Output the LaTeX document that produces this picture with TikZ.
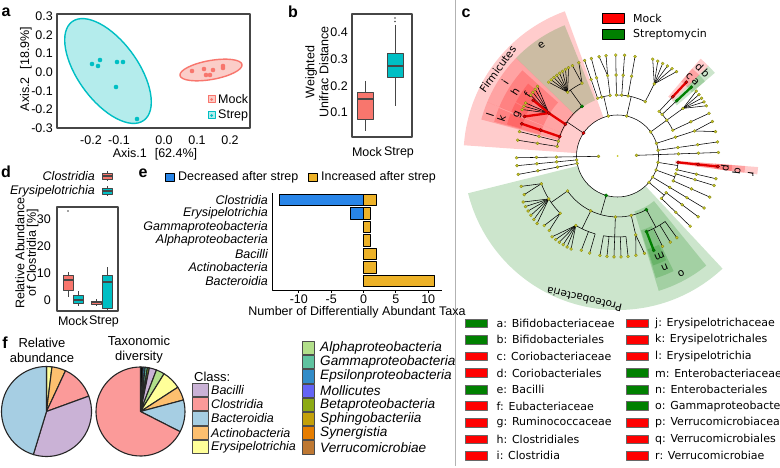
\documentclass[tikz,border=0pt]{standalone}
\usepackage{fontspec}
\setmainfont{Liberation Sans}
\newfontfamily\dvs{DejaVu Sans}
\definecolor{mockR}{RGB}{248,118,109}
\definecolor{strepC}{RGB}{0,191,196}
\definecolor{mockL}{RGB}{251,205,200}
\definecolor{strepL}{RGB}{180,236,236}
\definecolor{frameG}{RGB}{70,70,70}
\definecolor{decB}{RGB}{40,133,232}
\definecolor{incY}{RGB}{237,178,40}
\definecolor{fBac}{HTML}{CAB2D6}
\definecolor{fClo}{HTML}{FB9A99}
\definecolor{fBcd}{HTML}{A6CEE3}
\definecolor{fAct}{HTML}{FDBF6F}
\definecolor{fEry}{HTML}{FFFF99}
\definecolor{fAlp}{HTML}{B2DF8A}
\definecolor{fGam}{RGB}{95,195,160}
\definecolor{fEps}{RGB}{50,140,200}
\definecolor{fMol}{RGB}{100,100,245}
\definecolor{fBet}{RGB}{140,170,20}
\definecolor{fSph}{RGB}{195,160,10}
\definecolor{fSyn}{RGB}{230,125,0}
\definecolor{fVer}{RGB}{190,120,50}
\definecolor{hiR}{RGB}{230,0,0}
\definecolor{hiG}{RGB}{0,128,0}
\definecolor{ndY}{RGB}{200,200,40}
\definecolor{ndE}{RGB}{130,130,20}
\tikzset{
  txt/.style={font=\fontsize{12.5}{14}\selectfont, inner sep=0pt},
  ital/.style={font=\fontsize{12.5}{14}\selectfont\itshape, inner sep=0pt},
  fitalA/.style={font=\fontsize{12.5}{15}\selectfont\itshape, inner sep=0pt, anchor=west},
  fitalB/.style={font=\fontsize{13.6}{15}\selectfont\itshape, inner sep=0pt, anchor=west},
  plab/.style={font=\fontsize{16}{18}\selectfont\bfseries, inner sep=0pt},
  pframe/.style={draw=frameG, line width=1.3pt},
  brl/.style={line width=0.55pt, black},
  nd/.style={fill=ndY, draw=ndE, line width=0.3pt},
  hil/.style={line width=2.3pt},
  clab/.style={font=\dvs\fontsize{10.5}{12}\selectfont, inner sep=0pt},
  legt/.style={font=\dvs\fontsize{11}{13}\selectfont, inner sep=0pt, anchor=west},
  bx/.style={draw=frameG, line width=0.9pt},
  pies/.style={draw=black!85, line width=1.1pt},
  lbox/.style={draw=black!70, line width=0.9pt},
}
\newcommand\clsect[5]{\fill[#1, fill opacity=0.2] (#2:#4) arc[start angle=#2, end angle=#3, radius=#4] -- (#3:#5) arc[start angle=#3, end angle=#2, radius=#5] -- cycle;}
\newcommand\clrad[3]{\draw[brl] (#1:#2) -- (#1:#3);}
\newcommand\clarc[3]{\draw[brl] (#1:#3) arc[start angle=#1, end angle=#2, radius=#3];}
\newcommand\cldot[2]{\filldraw[nd] (#1:#2) circle[radius=1.5pt];}
\newcommand\clleaf[1]{\clrad{#1}{61}{101}\cldot{#1}{61}\cldot{#1}{81}\cldot{#1}{101}}
\newcommand\clleafB[1]{\clrad{#1}{81}{101}\cldot{#1}{101}}
\newcommand\clfork[3]{\draw[brl] (#1:81) -- (#2:101); \draw[brl] (#1:81) -- (#3:101); \cldot{#2}{101}\cldot{#3}{101}\cldot{#1}{81}}
\newcommand\clfan[4]{\foreach \fa in {#4}{\draw[brl] (#1:#2) -- (\fa:#3);}\foreach \fa in {#4}{\cldot{\fa}{#3}}\cldot{#1}{#2}}
\newcommand\clrdot[2]{\filldraw[fill=hiR, draw=black!60!red, line width=0.3pt] (#1:#2) circle[radius=1.7pt];}
\newcommand\clgdot[2]{\filldraw[fill=hiG, draw=black!60!green, line width=0.3pt] (#1:#2) circle[radius=1.7pt];}
\begin{document}
\begin{tikzpicture}[x=1pt,y=-1pt,line join=round]
\useasboundingbox (0,0) rectangle (780,468);
\fill[white] (0,0) rectangle (780,468);

% ---------------- panel a
\node[plab] (pa) at (6,12) {a};
\draw[pframe] (57,14) rectangle (250,128);
\draw[strepC, line width=1.4pt, fill=strepL, shift={(108,71)}, rotate=-54] (0,0) ellipse [x radius=61pt, y radius=30pt];
\draw[mockR, line width=1.4pt, fill=mockL, shift={(211,70)}, rotate=10] (0,0) ellipse [x radius=31.5pt, y radius=9.5pt];
\foreach \p in {(92,64),(98,66),(100,60),(117,62),(123,62),(116,87),(137,119)} \fill[strepC] \p circle[radius=2.3pt];
\foreach \p in {(192,71),(204,69),(206,75),(210,75),(213,70),(223,66),(223,68)} \fill[mockR] \p circle[radius=2.3pt];
\foreach \v/\y [count=\i] in {0.3/16,0.2/35,0.1/53,0.0/72,-0.1/91,-0.2/109,-0.3/128} \node[txt, anchor=east] (ay\i) at (53,\y) {\v};
\foreach \v/\x [count=\i] in {-0.2/91,-0.1/119,0.0/164,0.1/197,0.2/230} \node[txt] (ax\i) at (\x,140) {\v};
\node[txt] (axl1) at (155,154) {Axis.1\hspace{8pt}[62.4\%]};
\node[txt, rotate=90] (axl2) at (26,69) {Axis.2\hspace{8pt}[18.9\%]};
\draw[mockR, fill=mockL, line width=1pt] (208,96) rectangle (215,103);
\fill[mockR] (211.5,99.5) circle[radius=1.5pt];
\draw[strepC, fill=strepL, line width=1pt] (208,112) rectangle (215,119);
\fill[strepC] (211.5,115.5) circle[radius=1.5pt];
\node[txt, anchor=west] (lgm) at (218,99.5) {Mock};
\node[txt, anchor=west] (lgs) at (218,115.5) {Strep};

% ---------------- panel b
\node[plab] (pb) at (293,12) {b};
\draw[pframe] (352,14) rectangle (412,137);
\foreach \v/\y [count=\i] in {0.4/32,0.3/59,0.2/86,0.1/112} \node[txt, anchor=east] (by\i) at (348,\y) {\v};
\node[txt, rotate=90, align=center] (byl) at (317,72) {Weighted\\Unifrac Distance};
\draw[frameG, line width=0.9pt] (365,81) -- (365,131);
\draw[bx, fill=mockR] (357,92) rectangle (373,119);
\draw[frameG, line width=2pt] (357,99) -- (373,99);
\draw[frameG, line width=0.9pt] (395,25) -- (395,106);
\draw[bx, fill=strepC] (387,53) rectangle (403,77);
\draw[frameG, line width=2pt] (387,66) -- (403,66);
\fill[frameG] (395,18) circle[radius=0.9pt];
\fill[frameG] (395,21.5) circle[radius=0.9pt];
\node[txt] (bxm) at (367,152) {Mock};
\node[txt] (bxs) at (399,152) {Strep};

% divider
\draw[gray!60, line width=1pt] (455,0) -- (455,466);

% ---------------- panel c
\node[plab] (pc) at (466,13) {c};
\draw[black, line width=0.8pt, fill=red] (602,13) rectangle (624,23);
\node[legt] (lmock) at (633,18) {Mock};
\draw[black, line width=0.8pt, fill=hiG] (602,29) rectangle (624,39);
\node[legt] (lstrep) at (633,34) {Streptomycin};

\begin{scope}[shift={(617.5,156)}, yscale=-1]
% shaded clades
\clsect{red}{110}{176}{41}{154}
\clsect{hiG}{-166}{-47}{41}{154}
\clsect{hiG}{112}{136}{60}{141}
\clsect{red}{136}{157.5}{60}{141}
\clsect{red}{138}{157.5}{80}{128}
\clsect{red}{141}{152}{100}{115}
\clsect{red}{152.5}{157.5}{100}{115}
\clsect{red}{157.5}{165}{60}{141}
\clsect{red}{158}{164.5}{80}{128}
\clsect{red}{158.5}{164}{100}{115}
\clsect{red}{44.8}{49.5}{78}{128}
\clsect{red}{44.8}{49.5}{98}{115}
\clsect{hiG}{40.5}{44.8}{78}{128}
\clsect{hiG}{40.5}{44.8}{98}{115}
\clsect{red}{-7.5}{-4.5}{58}{141}
\clsect{red}{-7.5}{-4.5}{78}{128}
\clsect{red}{-7.5}{-4.5}{98}{115}
\clsect{hiG}{-73}{-51}{58}{141}
\clsect{hiG}{-72.5}{-64}{78}{128}
\clsect{hiG}{-72}{-65}{98}{115}
% backbone
\draw[brl] (0,0) circle[radius=41];
% Firmicutes
\clrad{146}{41}{61}
\clarc{125.6}{171}{61}
\clrad{125.6}{61}{81}
\clarc{116}{128}{81}
\clfan{128}{81}{101}{119,121,123,125,127,129,131,133}
\clfork{116}{112.5}{116.5}
\clfan{148}{81}{106}{139,141,143,145,150,152,154}
\draw[hil, hiR] (148.6:61) -- (148:81) -- (146.5:101);
\draw[hil, hiR] (148:81) -- (157:101);
\draw[hil, hiR] (161.4:61) -- (161.4:101);
\clleaf{166}
\clleaf{171}
\clrdot{146}{41}\clgdot{125.6}{61}\clrdot{148.6}{61}\clrdot{148}{81}\clrdot{146.5}{101}\clrdot{157}{101}
\clrdot{161.4}{61}\clrdot{161.4}{81}\clrdot{161.4}{101}
% top phylum A
\clrad{103}{41}{61}
\clarc{97}{109}{61}
\clleaf{109}
\clleaf{105}
\clrad{97}{61}{81}
\clfork{97}{96.5}{100.5}
\cldot{103}{41}\cldot{97}{61}
% top phylum B
\clrad{77}{41}{61}
\clarc{63}{91}{61}
\clleaf{91}
\clleaf{86}
\clleaf{80}
\clrad{63}{61}{81}
\clfan{63}{81}{103}{55,58,61,64,67,70}
\cldot{77}{41}\cldot{63}{61}
% Actinobacteria
\clrad{36}{41}{61}
\clarc{25}{47}{61}
\clrad{25}{61}{101}\cldot{25}{81}\cldot{25}{101}
\clrad{36}{61}{81}
\clfan{36}{81}{102}{29.5,32,34.5,37,39.5}
\clrad{43}{61}{81}
\clrad{47}{61}{81}
\draw[hil, hiG] (43:81) -- (43:101);
\draw[hil, hiR] (47:81) -- (47:101);
\cldot{36}{41}\cldot{36}{61}\cldot{25}{61}\cldot{43}{61}\cldot{47}{61}
\clgdot{43}{81}\clgdot{43}{101}\clrdot{47}{81}\clrdot{47}{101}
% right side
\clrad{18}{41}{81}
\clfork{18}{14}{20}
\cldot{18}{41}\cldot{18}{61}
\clrad{8}{41}{101}
\cldot{8}{41}\cldot{8}{61}\cldot{8}{81}\cldot{8}{101}
\draw[brl] (2:19) -- (2:101);
\cldot{2}{19}\cldot{2}{61}\cldot{2}{81}\cldot{2}{101}
% Verrucomicrobia
\clrad{-9}{41}{61}
\clarc{-13}{-6}{61}
\clleaf{-13}
\draw[hil, hiR] (-6:61) -- (-6:101);
\cldot{-9}{41}\clrdot{-6}{61}\clrdot{-6}{81}\clrdot{-6}{101}
% lower right phyla
\clrad{-20}{41}{61}
\clarc{-24}{-17}{61}
\clleaf{-17}
\clleaf{-24}
\cldot{-20}{41}
\clrad{-31}{41}{101}
\cldot{-31}{41}\cldot{-31}{61}\cldot{-31}{81}\cldot{-31}{101}
\clrad{-40}{41}{61}
\clarc{-44}{-37}{61}
\clleaf{-37}
\clleaf{-44}
\cldot{-40}{41}
% Proteobacteria
\clrad{-106}{41}{61}
\clarc{-145}{-61.7}{61}
\clrad{-61.7}{61}{81}
\clarc{-69}{-54}{81}
\clleafB{-63.5}
\clleafB{-58.5}
\clleafB{-54}
\draw[hil, hiG] (-69:81) -- (-69:101);
\clrad{-77}{61}{81}
\clfork{-77}{-74.5}{-79.5}
\clrad{-92}{61}{81}
\clarc{-100}{-84}{81}
\foreach \q in {-84,-88,-92,-96,-100} {\clleafB{\q}}
\clrad{-116}{61}{81}
\clarc{-121}{-106}{81}
\clleafB{-106}
\clleafB{-111}
\clfan{-121}{81}{104}{-116.5,-119,-121.5,-124,-126.5,-129}
\clrad{-145}{61}{81}
\clarc{-160}{-135}{81}
\clfork{-135}{-132.5}{-136.5}
\clfan{-148}{81}{105}{-140,-142.8,-145.6,-148.4,-151.2,-154}
\clfork{-160}{-157.5}{-162.5}
\foreach \q in {-77,-92,-116,-145} {\cldot{\q}{61}}
\clgdot{-106}{41}\clgdot{-61.7}{61}\clgdot{-69}{81}\clgdot{-69}{101}
% left side
\draw[brl] (181:19) -- (181:101);
\cldot{181}{19}\cldot{181}{61}\cldot{181}{81}\cldot{181}{101}
\clrad{185.5}{41}{101}
\cldot{185.5}{41}\cldot{185.5}{61}\cldot{185.5}{81}\cldot{185.5}{101}
\clrad{190.5}{41}{101}
\cldot{190.5}{41}\cldot{190.5}{61}\cldot{190.5}{81}\cldot{190.5}{101}
\fill[ndY] (0,0) circle[radius=1pt];
% clade labels
\node[clab, rotate=54] (tfirm) at (144:148) {Firmicutes};
\node[clab, rotate=167] (tprot) at (-103:147) {Proteobacteria};
\node[clab, rotate=34.4] (te) at (124.4:134.5) {e};
\node[clab, rotate=56.8] (ti) at (146.8:134.5) {i};
\node[clab, rotate=58] (th) at (148:121) {h};
\node[clab, rotate=55.9] (tf) at (145.9:109) {f};
\node[clab, rotate=67.7] (tg) at (157.7:108) {g};
\node[clab, rotate=72] (tl) at (162:134) {l};
\node[clab, rotate=72] (tk) at (162:122) {k};
\node[clab, rotate=-42.1] (tc) at (47.9:107) {c};
\node[clab, rotate=-42.7] (td) at (47.3:121) {d};
\node[clab, rotate=-46.5] (ta) at (43.5:107.5) {a};
\node[clab, rotate=-46.8] (tb) at (43.2:121) {b};
\node[clab, rotate=-96.5] (tp) at (-6.5:108) {p};
\node[clab, rotate=-97] (tq) at (-7:120) {q};
\node[clab, rotate=-97.5] (tr) at (-7.5:134.5) {r};
\node[clab, rotate=-157.2] (tm) at (-67.2:108.5) {m};
\node[clab, rotate=-157] (tn) at (-67:121) {n};
\node[clab, rotate=-151.6] (to) at (-61.6:134) {o};
\end{scope}

% legend of c
\foreach \l/\c [count=\i] in {a: Bifidobacteriaceae/hiG, b: Bifidobacteriales/hiG, c: Coriobacteriaceae/red, d: Coriobacteriales/red, e: Bacilli/hiG, f: Eubacteriaceae/red, g: Ruminococcaceae/red, h: Clostridiales/red, i: Clostridia/red} {
  \draw[black!60, line width=0.6pt, fill=\c] (465,{323.3+16.55*(\i-1)-4.3}) rectangle (487,{323.3+16.55*(\i-1)+4.3});
  \node[legt] (lc\i) at (496.5,{323.3+16.55*(\i-1)}) {\l};
}
\foreach \l/\c [count=\i] in {j: Erysipelotrichaceae/red, k: Erysipelotrichales/red, l: Erysipelotrichia/red, m: Enterobacteriaceae/hiG, n: Enterobacteriales/hiG, o: Gammaproteobacteria/hiG, p: Verrucomicrobiaceae/red, q: Verrucomicrobiales/red, r: Verrucomicrobiae/red} {
  \draw[black!60, line width=0.6pt, fill=\c] (626,{323.3+16.55*(\i-1)-4.3}) rectangle (648,{323.3+16.55*(\i-1)+4.3});
  \node[legt] (ld\i) at (655,{323.3+16.55*(\i-1)}) {\l};
}

% ---------------- panel d
\node[plab] (pd) at (6,172) {d};
\node[ital, anchor=east] (dl1) at (95,176) {Clostridia};
\node[ital, anchor=east] (dl2) at (95,191) {Erysipelotrichia};
\draw[frameG, line width=0.8pt] (107,171) -- (107,181);
\draw[bx, fill=mockR] (102,173) rectangle (112,179);
\draw[frameG, line width=1.2pt] (102,176) -- (112,176);
\draw[frameG, line width=0.8pt] (107,186) -- (107,196);
\draw[bx, fill=strepC] (102,188) rectangle (112,194);
\draw[frameG, line width=1.2pt] (102,191) -- (112,191);
\draw[pframe] (57,207) rectangle (118,311);
\foreach \v/\y [count=\i] in {30/219,20/246,10/273,0/300} \node[txt, anchor=east] (dy\i) at (51,\y) {\v};
\node[rotate=90, align=center, inner sep=0pt, font=\fontsize{12.5}{11.5}\selectfont] (dyl) at (27,253) {Relative Abundance\\of Clostridia [\%]};
\draw[frameG, line width=0.8pt] (68,272) -- (68,297);
\draw[bx, fill=mockR] (63,275) rectangle (73,290);
\draw[frameG, line width=1.8pt] (63,280) -- (73,280);
\fill[frameG] (68,211) circle[radius=0.9pt];
\draw[frameG, line width=0.8pt] (78,291) -- (78,306);
\draw[bx, fill=strepC] (73,295) rectangle (83,303);
\draw[frameG, line width=1.8pt] (73,300) -- (83,300);
\draw[frameG, line width=0.8pt] (96,299) -- (96,306);
\draw[bx, fill=mockR] (91,301) rectangle (101,304);
\draw[frameG, line width=1.8pt] (91,302.5) -- (101,302.5);
\draw[frameG, line width=0.8pt] (107,267) -- (107,311);
\draw[bx, fill=strepC] (102,275) rectangle (112,308);
\draw[frameG, line width=1.8pt] (102,282) -- (112,282);
\node[txt] (dxm) at (73,321) {Mock};
\node[txt] (dxs) at (104,321) {Strep};

% ---------------- panel e
\node[plab] (pe) at (143,173) {e};
\draw[black, line width=0.8pt, fill=decB] (165,173) rectangle (174,181);
\node[txt, anchor=west] (el1) at (178,177) {Decreased after strep};
\draw[black, line width=0.8pt, fill=incY] (308,173) rectangle (317,181);
\node[txt, anchor=west] (el2) at (321,177) {Increased after strep};
\foreach \yc/\n/\p in {200/-13/2, 213.5/-2/1, 227/0/1, 240.5/0/1, 254/0/2, 267.5/0/2, 281/0/11} {
  \ifnum\n<0 \draw[black, line width=0.9pt, fill=decB] ({363.5+\n*6.47},\yc-5.7) rectangle (363.5,\yc+5.7); \fi
  \draw[black, line width=0.9pt, fill=incY] (363.5,\yc-5.7) rectangle ({363.5+\p*6.47},\yc+5.7);
}
\draw[black, line width=1pt] (272,193) -- (272,290) -- (442,290);
\foreach \l/\yc [count=\i] in {Clostridia/200, Erysipelotrichia/213.5, Gammaproteobacteria/227, Alphaproteobacteria/240.5, Bacilli/254, Actinobacteria/267.5, Bacteroidia/281} \node[ital, anchor=east] (eb\i) at (268,\yc) {\l};
\foreach \v [count=\i] in {-10,-5,0,5,10} {
  \draw[black, line width=0.8pt] ({363.5+\v*6.47},290) -- ({363.5+\v*6.47},293);
  \node[txt] (et\i) at ({363.5+\v*6.47},299.5) {\v};
}
\node[txt] (exl) at (357,312) {Number of Differentially Abundant Taxa};

% ---------------- panel f
\node[plab] (pf) at (5,343) {f};
\node[txt, align=center, font=\fontsize{13}{15}\selectfont] (ft1) at (42,350) {Relative\\abundance};
\node[txt, align=center, font=\fontsize{13}{15}\selectfont] (ft2) at (139,350) {Taxonomic\\diversity};
\begin{scope}[shift={(46.5,411.5)}, yscale=-1]
\foreach \a/\b/\c in {90/83/fEry, 83/65/fAct, 65/20/fClo, 20/-107/fBac, -107/-270/fBcd}
  \filldraw[pies, fill=\c] (0,0) -- (\a:45) arc[start angle=\a, end angle=\b, radius=45] -- cycle;
\end{scope}
\begin{scope}[shift={(140.5,411.5)}, yscale=-1]
\foreach \a/\b/\c in {90/86.5/black, 86.5/84/fEps, 84/81/fGam, 81/78.5/fBet, 78.5/69/fBac, 69/58/fAlp, 58/33/fEry, 33/15/fAct, 15/-27/fBcd, -27/-270/fClo}
  \filldraw[pies, fill=\c] (0,0) -- (\a:44.5) arc[start angle=\a, end angle=\b, radius=44.5] -- cycle;
\end{scope}
\node[txt, anchor=west, font=\fontsize{13}{15}\selectfont] (fcl) at (194,377) {Class:};
\foreach \l/\c [count=\i] in {Bacilli/fBac, Clostridia/fClo, Bacteroidia/fBcd, Actinobacteria/fAct, Erysipelotrichia/fEry} {
  \draw[lbox, fill=\c] (192,{390+14.25*(\i-1)-6.6}) rectangle (208,{390+14.25*(\i-1)+6.6});
  \node[fitalA] (fa\i) at (211,{390+14.25*(\i-1)}) {\l};
}
\foreach \l/\c [count=\i] in {Alphaproteobacteria/fAlp, Gammaproteobacteria/fGam, Epsilonproteobacteria/fEps, Mollicutes/fMol, Betaproteobacteria/fBet, Sphingobacteriia/fSph, Synergistia/fSyn, Verrucomicrobiae/fVer} {
  \draw[lbox, fill=\c] (302,{348+14.2*(\i-1)-6.6}) rectangle (314,{348+14.2*(\i-1)+6.6});
  \node[fitalB] (fb\i) at (320,{348+14.2*(\i-1)}) {\l};
}
\end{tikzpicture}
\end{document}
